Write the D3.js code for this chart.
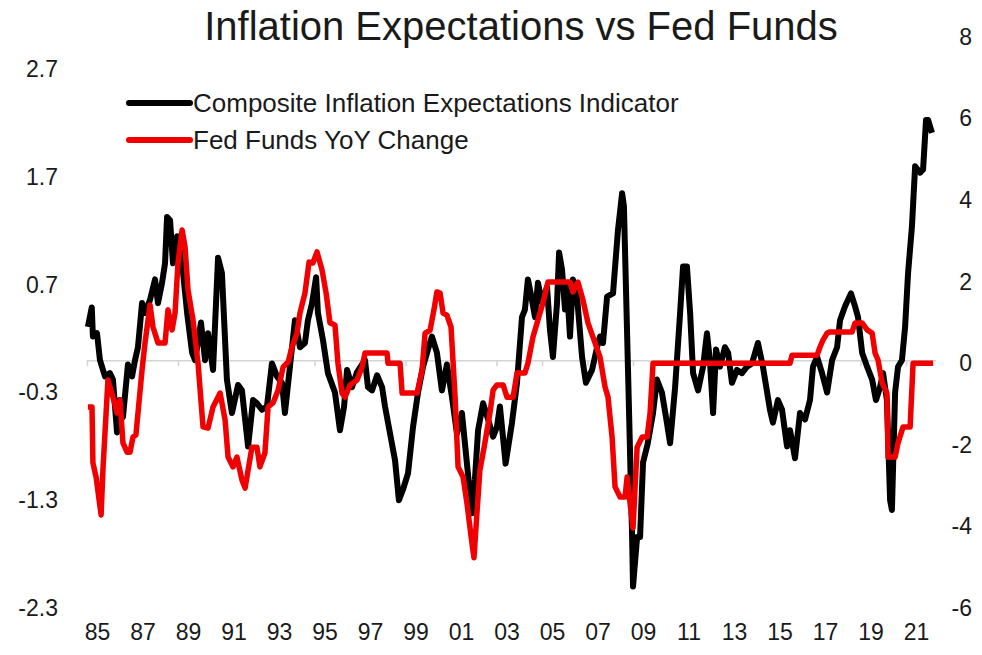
<!DOCTYPE html>
<html lang="en">
<head>
<meta charset="UTF-8">
<title>Inflation Expectations vs Fed Funds</title>
<script src="https://d3js.org/d3.v7.min.js"></script>
<style>
  body { margin: 0; background: #fff; }
  svg text { font-family: "Liberation Sans", Arial, sans-serif; fill: #1a1a1a; }
</style>
</head>
<body>
<div id="chart"></div>
<script>
// series: Composite Inflation Expectations Indicator (left axis)
var blackYears = [1985.04,1985.21,1985.26,1985.44,1985.57,1985.79,1986.01,1986.14,1986.32,1986.45,1986.58,1986.80,1986.98,
  1987.11,1987.24,1987.42,1987.55,1987.77,1987.99,1988.12,1988.30,1988.43,1988.52,1988.65,1988.78,1988.96,1989.09,
  1989.40,1989.62,1989.75,1990.01,1990.19,1990.32,1990.54,1990.76,1990.93,1991.15,1991.37,1991.64,1991.81,1992.08,
  1992.30,1992.47,1992.69,1992.91,1993.13,1993.35,1993.57,1993.70,1993.92,1994.14,1994.36,1994.58,1994.71,1994.89,
  1995.07,1995.15,1995.37,1995.59,1995.90,1996.12,1996.30,1996.43,1996.65,1996.87,1997.09,1997.22,1997.35,1997.53,
  1997.75,1997.97,1998.10,1998.32,1998.54,1998.71,1998.89,1999.11,1999.33,1999.55,1999.77,1999.99,2000.16,2000.38,
  2000.60,2000.82,2001.04,2001.26,2001.48,2001.70,2001.92,2002.05,2002.19,2002.41,2002.63,2002.85,2003.02,2003.15,
  2003.40,2003.68,2003.90,2004.12,2004.25,2004.38,2004.56,2004.69,2004.82,2005.00,2005.22,2005.35,2005.48,2005.66,
  2005.75,2005.88,2006.01,2006.10,2006.23,2006.36,2006.54,2006.76,2006.93,2007.20,2007.42,2007.55,2007.68,2007.86,
  2008.12,2008.34,2008.52,2008.60,2008.78,2008.96,2009.00,2009.18,2009.31,2009.44,2009.64,2009.88,2010.05,2010.27,
  2010.49,2010.63,2010.85,2011.07,2011.20,2011.37,2011.51,2011.64,2011.86,2012.08,2012.25,2012.38,2012.52,2012.65,
  2012.82,2013.04,2013.18,2013.35,2013.57,2013.79,2014.01,2014.23,2014.49,2014.71,2015.02,2015.15,2015.37,2015.55,
  2015.77,2015.90,2016.12,2016.34,2016.56,2016.78,2016.91,2017.09,2017.31,2017.53,2017.75,2017.97,2018.10,2018.32,
  2018.58,2018.76,2018.89,2019.07,2019.29,2019.51,2019.68,2019.86,2019.99,2020.16,2020.30,2020.38,2020.52,2020.65,
  2020.82,2020.96,2021.09,2021.26,2021.40,2021.62,2021.75,2021.88,2021.97,2022.14];
var blackValues = [0.31,0.49,0.22,0.25,0.00,-0.15,-0.12,-0.18,-0.67,-0.37,-0.53,-0.04,-0.15,
  0.00,0.12,0.53,0.44,0.56,0.75,0.53,0.72,0.90,1.33,1.30,0.90,1.15,1.09,
  0.44,0.07,0.00,0.35,0.00,0.25,-0.09,0.95,0.81,-0.18,-0.49,-0.23,-0.28,-0.80,
  -0.37,-0.40,-0.46,-0.43,-0.03,-0.15,-0.21,-0.49,-0.06,0.37,0.12,0.16,0.37,0.53,
  0.77,0.44,0.19,-0.12,-0.30,-0.65,-0.43,-0.09,-0.25,-0.11,-0.04,0.00,-0.25,-0.28,
  -0.14,-0.25,-0.43,-0.68,-0.93,-1.30,-1.20,-1.05,-0.62,-0.30,-0.06,0.10,0.22,0.07,
  -0.28,-0.04,-0.34,-0.68,-0.49,-0.96,-1.42,-1.11,-0.65,-0.40,-0.55,-0.71,-0.62,-0.43,
  -0.96,-0.58,-0.21,0.40,0.47,0.75,0.56,0.40,0.72,0.53,0.68,0.28,0.03,0.53,
  1.00,0.84,0.47,0.68,0.22,0.75,0.59,0.03,-0.21,-0.09,0.12,0.22,0.16,0.59,
  0.62,1.21,1.55,1.43,-0.09,-1.64,-2.10,-1.64,-1.64,-0.95,-0.78,-0.49,-0.18,-0.30,
  -0.58,-0.77,-0.25,0.44,0.87,0.87,0.44,-0.12,-0.28,-0.06,0.25,0.00,-0.49,0.10,
  -0.06,0.12,0.07,-0.21,-0.09,-0.12,-0.06,-0.03,0.16,-0.06,-0.46,-0.58,-0.37,-0.46,
  -0.80,-0.65,-0.91,-0.49,-0.55,-0.37,-0.06,0.03,-0.12,-0.30,0.00,0.12,0.37,0.50,
  0.62,0.50,0.40,0.07,-0.06,-0.18,-0.37,-0.25,-0.12,-0.37,-1.30,-1.39,-0.30,-0.06,
  0.00,0.31,0.81,1.24,1.80,1.74,1.77,2.23,2.23,2.11];

// series: Fed Funds YoY Change (right axis)
var redYears = [1985.04,1985.22,1985.26,1985.40,1985.62,1985.70,1985.92,1986.14,1986.32,1986.45,1986.58,1986.76,1986.89,
  1987.02,1987.15,1987.42,1987.55,1987.77,1987.90,1988.12,1988.43,1988.56,1988.74,1988.87,1989.00,1989.18,1989.31,
  1989.44,1989.66,1989.88,1990.10,1990.32,1990.54,1990.85,1991.07,1991.20,1991.42,1991.59,1991.81,1991.95,1992.08,
  1992.25,1992.47,1992.60,1992.82,1992.96,1993.18,1993.40,1993.62,1993.84,1994.01,1994.23,1994.36,1994.58,1994.76,
  1994.93,1995.11,1995.33,1995.51,1995.68,1995.90,1996.03,1996.21,1996.34,1996.56,1996.87,1997.09,1997.22,1998.19,
  1998.23,1998.76,1998.85,1999.51,1999.73,1999.86,2000.08,2000.25,2000.38,2000.52,2000.65,2000.82,2001.00,2001.18,
  2001.31,2001.53,2001.70,2001.92,2002.01,2002.14,2002.27,2002.49,2002.71,2002.85,2003.02,2003.29,2003.46,2003.73,
  2003.90,2004.25,2004.38,2004.60,2004.82,2005.04,2005.26,2006.23,2006.36,2006.58,2006.80,2007.02,2007.24,2007.55,
  2007.77,2007.90,2008.08,2008.21,2008.43,2008.65,2008.74,2008.87,2009.00,2009.18,2009.40,2009.62,2009.75,2009.88,
  2015.90,2015.99,2017.09,2017.22,2017.35,2017.53,2017.66,2018.63,2018.76,2019.07,2019.29,2019.51,2019.64,2019.77,
  2019.95,2020.16,2020.21,2020.52,2020.65,2020.87,2021.18,2021.31,2022.19];
var redValues = [-1.07,-1.07,-2.44,-2.79,-3.72,-2.62,-0.41,-0.83,-1.22,-0.90,-1.95,-2.18,-2.18,
  -1.81,-1.76,-0.16,0.50,1.43,0.89,0.50,0.50,1.31,0.82,1.23,2.46,3.27,2.85,
  1.80,1.06,0.00,-1.56,-1.59,-1.07,-0.73,-1.39,-2.30,-2.54,-2.30,-2.86,-3.06,-2.62,
  -2.06,-2.06,-2.54,-2.20,-1.07,-0.97,-0.66,-0.09,0.03,0.40,0.74,1.23,1.72,2.48,
  2.46,2.73,2.29,1.72,0.99,0.94,0.00,-0.73,-0.83,-0.53,-0.41,-0.09,0.25,0.25,
  0.00,0.00,-0.73,-0.73,-0.16,0.74,0.81,1.31,1.75,1.72,1.23,1.18,0.89,-0.83,
  -2.54,-2.79,-3.43,-4.41,-4.77,-3.67,-2.62,-1.95,-1.22,-0.66,-0.53,-0.53,-0.83,-0.83,
  -0.24,-0.24,0.00,0.64,1.06,1.48,1.99,1.99,1.75,1.99,1.55,0.99,0.64,0.15,
  -0.58,-0.83,-1.81,-3.03,-3.28,-3.28,-2.79,-3.43,-4.04,-2.06,-1.81,-1.81,-1.22,0.00,
  0.00,0.20,0.20,0.40,0.57,0.74,0.77,0.77,0.99,0.99,0.82,0.74,0.25,0.08,
  -0.48,-0.73,-2.30,-2.30,-1.95,-1.56,-1.56,0.00,0.00];

var leftTicks = [-2.3, -1.3, -0.3, 0.7, 1.7, 2.7];
var rightTicks = [-6, -4, -2, 0, 2, 4, 6, 8];
var yearTicks = [1985,1987,1989,1991,1993,1995,1997,1999,2001,2003,2005,2007,2009,2011,2013,2015,2017,2019,2021];
var yearLabels = ["85","87","89","91","93","95","97","99","01","03","05","07","09","11","13","15","17","19","21"];

var width = 982, height = 655;

var svg = d3.select("#chart")
  .append("svg")
  .attr("width", width)
  .attr("height", height);

var x = d3.scaleLinear().domain([1985, 2022.3]).range([87, 935.6]);
var yL = d3.scaleLinear().domain([-2.3, 3.0]).range([608, 37]);
var yR = d3.scaleLinear().domain([-6, 8]).range([608, 37]);

// plain hyphen for negatives, like the original
var fmt1 = function(d) { return d3.format(".1f")(d).replace("\u2212", "-"); };
var fmt0 = function(d) { return d3.format("d")(d).replace("\u2212", "-"); };

// title
svg.append("text")
  .attr("x", 521)
  .attr("y", 40)
  .attr("text-anchor", "middle")
  .style("font-size", "40px")
  .text("Inflation Expectations vs Fed Funds");

// zero line with small ticks
var zeroAxis = svg.append("g")
  .attr("transform", "translate(0," + yL(0) + ")")
  .call(d3.axisBottom(x).tickValues(yearTicks).tickSize(6).tickSizeOuter(0).tickFormat(""));
zeroAxis.selectAll("path, line").attr("stroke", "#d4d4d4").attr("stroke-width", 1.5);

// year labels
var xAxis = svg.append("g")
  .attr("transform", "translate(10,623)")
  .call(d3.axisBottom(x).tickValues(yearTicks).tickSize(0).tickPadding(0)
    .tickFormat(function(d, i) { return yearLabels[i]; }));
xAxis.select(".domain").remove();
xAxis.selectAll("text").style("font-size", "23px").attr("dy", "0.72em");

// left axis
var leftAxis = svg.append("g")
  .attr("transform", "translate(58,0)")
  .call(d3.axisLeft(yL).tickValues(leftTicks).tickSize(0).tickPadding(0).tickFormat(fmt1));
leftAxis.select(".domain").remove();
leftAxis.selectAll("text").style("font-size", "23px");

// right axis
var rightAxis = svg.append("g")
  .attr("transform", "translate(972,0)")
  .call(d3.axisLeft(yR).tickValues(rightTicks).tickSize(0).tickPadding(0).tickFormat(fmt0));
rightAxis.select(".domain").remove();
rightAxis.selectAll("text").style("font-size", "23px");

// lines
var blackData = blackYears.map(function(d, i) { return [d, blackValues[i]]; });
var redData = redYears.map(function(d, i) { return [d, redValues[i]]; });

svg.append("path")
  .datum(blackData)
  .attr("fill", "none")
  .attr("stroke", "#000")
  .attr("stroke-width", 6)
  .attr("stroke-linejoin", "round")
  .attr("d", d3.line().x(function(d) { return x(d[0]); }).y(function(d) { return yL(d[1]); }));

svg.append("path")
  .datum(redData)
  .attr("fill", "none")
  .attr("stroke", "#f00000")
  .attr("stroke-width", 5.5)
  .attr("stroke-linejoin", "round")
  .attr("d", d3.line().x(function(d) { return x(d[0]); }).y(function(d) { return yR(d[1]); }));

// legend
var legend = [
  {name: "Composite Inflation Expectations Indicator", color: "#000", y: 103},
  {name: "Fed Funds YoY Change", color: "#f00000", y: 140}
];
legend.forEach(function(d) {
  svg.append("line")
    .attr("x1", 129).attr("x2", 190)
    .attr("y1", d.y).attr("y2", d.y)
    .attr("stroke", d.color)
    .attr("stroke-width", 6)
    .attr("stroke-linecap", "round");
  svg.append("text")
    .attr("x", 193)
    .attr("y", d.y)
    .attr("dy", "0.36em")
    .style("font-size", "26px")
    .text(d.name);
});
</script>
</body>
</html>
